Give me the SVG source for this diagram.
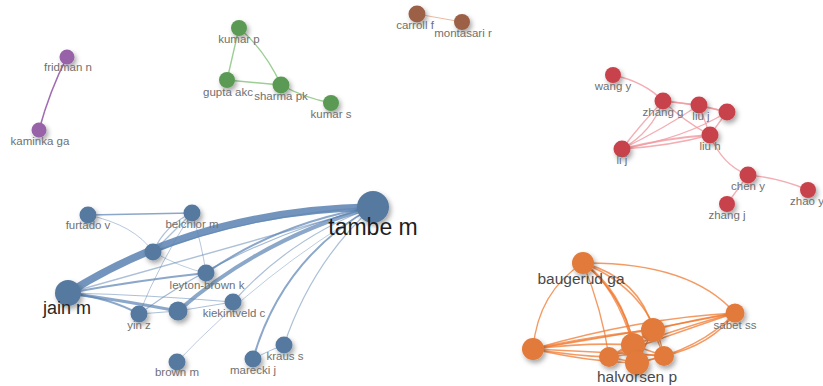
<svg xmlns="http://www.w3.org/2000/svg" width="823" height="386" viewBox="0 0 823 386">
<defs>
<filter id="sh" x="-60%" y="-60%" width="220%" height="220%">
<feDropShadow dx="2" dy="3" stdDeviation="2.6" flood-color="#000" flood-opacity="0.35"/>
</filter>
<style>
.lbl{font-family:"Liberation Sans",Arial,sans-serif;font-size:11.5px;fill:#707070;text-anchor:middle}
.big{font-family:"Liberation Sans",Arial,sans-serif;text-anchor:middle}
circle{filter:url(#sh)}
.e{fill:none;stroke-linecap:round}
.eb{stroke:#5a82b2;stroke-opacity:.7}
.er{stroke:#f09aa0;stroke-opacity:.8;stroke-width:1.3}
.eg{stroke:#9ccf95;stroke-width:1.4}
.ep{stroke:#a06cb2;stroke-width:1.6}
.ebr{stroke:#e4a888;stroke-width:.8}
.eo{stroke:#f07a30;stroke-opacity:.75;stroke-width:1.4}
.nb{fill:#56799f}
.nr{fill:#c8434c}
.ng{fill:#5a9a55}
.np{fill:#9762a8}
.nbr{fill:#9c6046}
.no{fill:#e27a3a}
</style>
</defs>
<rect width="823" height="386" fill="#fff"/>
<g id="connectors">
<path class="e ep" d="M67,57 Q50,90 39,130"/>
<path class="e eg" d="M239,28 L227,80"/>
<path class="e eg" d="M239,28 Q265,50 281,85"/>
<path class="e eg" d="M227,80 L281,85"/>
<path class="e eg" d="M281,85 Q305,98 331,103"/>
<path class="e ebr" d="M417,14 L462,22"/>
<path class="e er" d="M613,75 Q645,82 663,101"/>
<path class="e er" d="M663,101 L699,105"/>
<path class="e er" d="M663,101 Q695,104 727,112"/>
<path class="e er" d="M663,101 Q640,125 622,149"/>
<path class="e er" d="M663,101 Q652,132 622,149"/>
<path class="e er" d="M663,101 Q685,122 710,135"/>
<path class="e er" d="M699,105 L710,135"/>
<path class="e er" d="M699,105 L727,112"/>
<path class="e er" d="M727,112 L710,135"/>
<path class="e er" style="stroke-width:2" d="M622,149 Q665,138 710,135"/>
<path class="e er" d="M622,149 Q670,146 710,135"/>
<path class="e er" d="M622,149 Q685,138 727,112"/>
<path class="e er" d="M622,149 Q665,128 699,105"/>
<path class="e er" d="M710,135 Q722,165 748,175"/>
<path class="e er" d="M748,175 Q780,178 808,190"/>
<path class="e er" d="M748,175 L727,204"/>
<path class="e eb" style="stroke-width:1.5" d="M88,215 L192,213"/>
<path class="e eb" style="stroke-width:1;stroke-opacity:.45" d="M88,215 Q135,225 153,252"/>
<path class="e eb" style="stroke-width:1.3;stroke-opacity:.5" d="M192,213 L153,252"/>
<path class="e eb" style="stroke-width:1.3;stroke-opacity:.5" d="M192,213 Q165,225 153,252"/>
<path class="e eb" style="stroke-width:1;stroke-opacity:.45" d="M192,213 Q202,245 206,273"/>
<path class="e eb" style="stroke-width:1;stroke-opacity:.45" d="M192,213 Q160,262 139,314"/>
<path class="e eb" style="stroke-width:1;stroke-opacity:.4" d="M153,252 Q182,268 206,273"/>
<path class="e eb" style="stroke-width:2" d="M68,293 Q140,280 206,273"/>
<path class="e eb" style="stroke-width:1.2;stroke-opacity:.5" d="M68,293 Q150,295 233,302"/>
<path class="e eb" style="stroke-width:3.2" d="M68,293 Q120,300 178,311"/>
<path class="e eb" style="stroke-width:2" d="M68,293 Q110,298 139,314"/>
<path class="e eb" style="stroke-width:1;stroke-opacity:.5" d="M139,314 L178,311"/>
<path class="e eb" style="stroke-width:1;stroke-opacity:.5" d="M178,311 L233,302"/>
<path class="e eb" style="stroke-width:1;stroke-opacity:.5" d="M253,359 Q270,350 284,345"/>
<path class="e eb" style="stroke-width:1.4;stroke-opacity:.5" d="M373,207 Q220,250 68,293"/>
<path class="e eb" style="stroke-width:4" d="M373,207 Q262,238 178,311"/>
<path class="e eb" style="stroke-width:2" d="M373,207 Q280,222 206,273"/>
<path class="e eb" style="stroke-width:1.4;stroke-opacity:.55" d="M373,207 Q250,215 153,252"/>
<path class="e eb" style="stroke-width:1.2;stroke-opacity:.55" d="M373,207 Q240,240 139,314"/>
<path class="e eb" style="stroke-width:1.2;stroke-opacity:.5" d="M373,207 Q290,238 233,302"/>
<path class="e eb" style="stroke-width:1;stroke-opacity:.4" d="M373,207 Q262,272 177,362"/>
<path class="e eb" style="stroke-width:2" d="M373,207 Q282,258 253,359"/>
<path class="e eb" style="stroke-width:1.2;stroke-opacity:.5" d="M373,207 Q312,262 284,345"/>
<path class="e eb" style="stroke-width:7.5;stroke-opacity:.85" d="M68,293 Q200,210 373,207"/>
<path class="e eo" d="M583,263 Q538,292 533,349"/>
<path class="e eo" d="M583,263 Q690,262 735,313"/>
<path class="e eo" d="M583,263 Q602,310 609,357"/>
<path class="e eo" style="stroke-width:2.2" d="M583,263 Q622,290 633,345"/>
<path class="e eo" d="M583,263 Q615,285 633,345"/>
<path class="e eo" d="M583,263 Q630,300 637,363"/>
<path class="e eo" style="stroke-width:1.8" d="M583,263 Q640,278 653,330"/>
<path class="e eo" d="M583,263 Q650,290 664,356"/>
<path class="e eo" d="M533,349 Q640,318 735,313"/>
<path class="e eo" d="M533,349 Q650,330 735,313"/>
<path class="e eo" style="stroke-width:1.8" d="M533,349 Q600,335 653,330"/>
<path class="e eo" style="stroke-width:1.8" d="M533,349 Q590,342 633,345"/>
<path class="e eo" d="M533,349 Q575,356 609,357"/>
<path class="e eo" d="M533,349 Q590,362 637,363"/>
<path class="e eo" d="M533,349 Q600,352 664,356"/>
<path class="e eo" d="M735,313 Q700,318 653,330"/>
<path class="e eo" d="M735,313 Q690,325 633,345"/>
<path class="e eo" d="M735,313 Q670,335 609,357"/>
<path class="e eo" d="M735,313 Q700,350 637,363"/>
<path class="e eo" d="M735,313 Q712,345 664,356"/>
<path class="e eo" d="M653,330 L633,345"/>
<path class="e eo" d="M653,330 L609,357"/>
<path class="e eo" d="M653,330 L637,363"/>
<path class="e eo" d="M653,330 L664,356"/>
<path class="e eo" d="M633,345 L609,357"/>
<path class="e eo" d="M633,345 L637,363"/>
<path class="e eo" d="M633,345 L664,356"/>
<path class="e eo" d="M609,357 L637,363"/>
<path class="e eo" d="M637,363 L664,356"/>
<path class="e eo" d="M609,357 Q636,352 664,356"/>
</g>
<g id="n-fridman"><circle class="np" cx="67" cy="57" r="7.5"/><text class="lbl" x="68" y="71">fridman n</text></g>
<g id="n-kaminka"><circle class="np" cx="39" cy="130" r="7.5"/><text class="lbl" x="40" y="145">kaminka ga</text></g>
<g id="n-kumarp"><circle class="ng" cx="239" cy="28" r="8"/><text class="lbl" x="239" y="43">kumar p</text></g>
<g id="n-gupta"><circle class="ng" cx="227" cy="80" r="8"/><text class="lbl" x="228" y="96">gupta akc</text></g>
<g id="n-sharma"><circle class="ng" cx="281" cy="85" r="8.5"/><text class="lbl" x="281" y="100">sharma pk</text></g>
<g id="n-kumars"><circle class="ng" cx="331" cy="103" r="8"/><text class="lbl" x="331" y="118">kumar s</text></g>
<g id="n-carroll"><circle class="nbr" cx="417" cy="14" r="8.5"/><text class="lbl" x="415" y="29">carroll f</text></g>
<g id="n-montasari"><circle class="nbr" cx="462" cy="22" r="8"/><text class="lbl" x="463" y="37">montasari r</text></g>
<g id="n-wangy"><circle class="nr" cx="613" cy="75" r="8"/><text class="lbl" x="613" y="90">wang y</text></g>
<g id="n-zhangg"><circle class="nr" cx="663" cy="101" r="8.5"/><text class="lbl" x="663" y="116">zhang g</text></g>
<g id="n-liuj"><circle class="nr" cx="699" cy="105" r="8.5"/><text class="lbl" x="701" y="120">liu j</text></g>
<g id="n-red7"><circle class="nr" cx="727" cy="112" r="8.5"/></g>
<g id="n-liuh"><circle class="nr" cx="710" cy="135" r="8.5"/><text class="lbl" x="710" y="150">liu h</text></g>
<g id="n-lij"><circle class="nr" cx="622" cy="149" r="8.5"/><text class="lbl" x="622" y="164">li j</text></g>
<g id="n-cheny"><circle class="nr" cx="748" cy="175" r="8.5"/><text class="lbl" x="748" y="190">chen y</text></g>
<g id="n-zhaoy"><circle class="nr" cx="808" cy="190" r="8"/><text class="lbl" x="807" y="205">zhao y</text></g>
<g id="n-zhangj"><circle class="nr" cx="727" cy="204" r="8"/><text class="lbl" x="727" y="219">zhang j</text></g>
<g id="n-furtado"><circle class="nb" cx="88" cy="215" r="8.5"/><text class="lbl" x="88" y="229">furtado v</text></g>
<g id="n-belchior"><circle class="nb" cx="192" cy="213" r="8.5"/><text class="lbl" x="192" y="228">belchior m</text></g>
<g id="n-blue3"><circle class="nb" cx="153" cy="252" r="8.5"/></g>
<g id="n-leyton"><circle class="nb" cx="206" cy="273" r="8.5"/><text class="lbl" x="207" y="289">leyton-brown k</text></g>
<g id="n-jain"><circle class="nb" cx="68" cy="293" r="13"/><text class="big" x="67" y="314" style="font-size:18px;fill:#262626">jain m</text></g>
<g id="n-yinz"><circle class="nb" cx="139" cy="314" r="8.5"/><text class="lbl" x="139" y="329">yin z</text></g>
<g id="n-blue7"><circle class="nb" cx="178" cy="311" r="9.5"/></g>
<g id="n-kiekintveld"><circle class="nb" cx="233" cy="302" r="8.5"/><text class="lbl" x="234" y="317">kiekintveld c</text></g>
<g id="n-brown"><circle class="nb" cx="177" cy="362" r="8.5"/><text class="lbl" x="177" y="376">brown m</text></g>
<g id="n-marecki"><circle class="nb" cx="253" cy="359" r="8.5"/><text class="lbl" x="253" y="374">marecki j</text></g>
<g id="n-kraus"><circle class="nb" cx="284" cy="345" r="8.5"/><text class="lbl" x="285" y="360">kraus s</text></g>
<g id="n-tambe"><circle class="nb" cx="373" cy="207" r="16"/><text class="big" x="373" y="235" style="font-size:23px;fill:#1e1e1e">tambe m</text></g>
<g id="n-baugerud"><circle class="no" cx="583" cy="263" r="11"/><text class="big" x="581" y="284" style="font-size:15.5px;fill:#4a4a4a">baugerud ga</text></g>
<g id="n-left"><circle class="no" cx="533" cy="349" r="11"/></g>
<g id="n-sabet"><circle class="no" cx="735" cy="313" r="9.5"/><text class="lbl" x="735" y="329">sabet ss</text></g>
<g id="n-o1"><circle class="no" cx="653" cy="330" r="12"/></g>
<g id="n-o2"><circle class="no" cx="633" cy="345" r="12"/></g>
<g id="n-o3"><circle class="no" cx="609" cy="357" r="10"/></g>
<g id="n-halvorsen"><circle class="no" cx="637" cy="363" r="12"/><text class="big" x="637" y="382" style="font-size:15.5px;fill:#4a4a4a">halvorsen p</text></g>
<g id="n-o5"><circle class="no" cx="664" cy="356" r="10"/></g>
</svg>
